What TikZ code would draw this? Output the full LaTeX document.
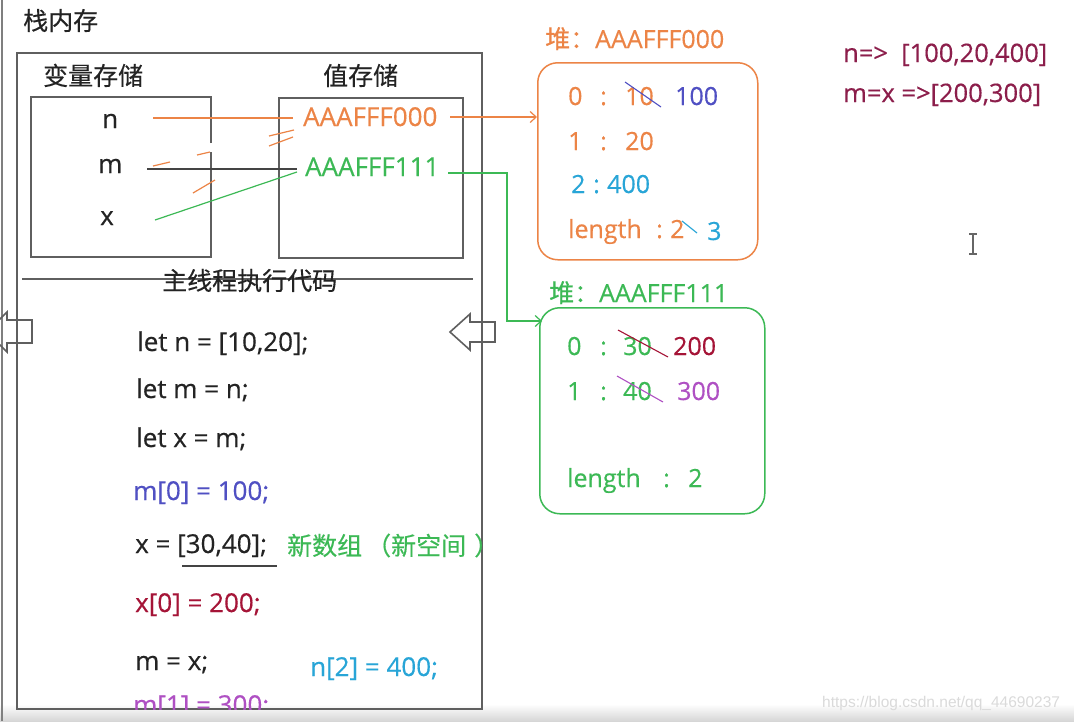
\documentclass[tikz,border=0pt]{standalone}
\usepackage{fontspec}
\setmainfont{Open Sans}[FakeBold=0.4]
\newfontfamily\cjk{Noto Sans CJK SC}[FakeBold=0.4]
\newfontfamily\wmfont{Liberation Sans}
\usetikzlibrary{arrows.meta,calc}
\definecolor{cOr}{RGB}{236,132,70}
\definecolor{cGr}{RGB}{60,185,85}
\definecolor{cBl}{RGB}{80,80,195}
\definecolor{cCy}{RGB}{40,165,215}
\definecolor{cRd}{RGB}{165,20,55}
\definecolor{cPu}{RGB}{175,80,195}
\definecolor{cMa}{RGB}{140,30,75}
\definecolor{cLn}{RGB}{95,95,95}
\definecolor{cTx}{RGB}{35,35,35}
\definecolor{cWm}{RGB}{218,218,218}
\tikzset{
  txt/.style={anchor=base west, inner sep=0pt, text=cTx, font=\fontsize{26}{30}\selectfont},
  htxt/.style={txt, font=\fontsize{25}{30}\selectfont},
  ctxt/.style={txt, font=\fontsize{25}{30}\selectfont\cjk},
  rtxt/.style={txt, text=cMa, font=\fontsize{25.5}{30}\selectfont},
  boxline/.style={draw=cLn, line width=1.8pt},
  sqbox/.style={anchor=north west, inner sep=0pt},
  heapbox/.style={anchor=north west, rounded corners=20pt, line width=1.5pt, inner sep=0pt},
  conn/.style={line width=1.2pt},
  strike/.style={line width=1.1pt},
  tip/.style={-{Straight Barb[length=6pt,width=11pt,line width=1.2pt]}},
  hollow/.style={draw=cLn, line width=1.6pt, line join=miter}
}
\begin{document}
\begin{tikzpicture}[x=1pt,y=-1pt]
\clip (0,0) rectangle (1074,721);
\fill[white] (0,0) rectangle (1074,721);
\shade[top color=white, bottom color=black!16] (0,704) rectangle (1074,721);
\node[anchor=base west, inner sep=0pt, text=cWm, font=\fontsize{15.5}{18}\selectfont\wmfont] (wm) at (822,707) {https://blog.csdn.net/qq\_44690237};

% left screen edge line
\draw[cLn!80, line width=1.5pt] (2,0) -- (2,721);

% stack memory
\node[ctxt] (stacklbl) at (23,30) {栈内存};
\node[sqbox, boxline, minimum width=465pt, minimum height=656pt] (stack) at (16,52) {};
\node[ctxt] (varlbl) at (43,85) {变量存储};
\node[ctxt] (vallbl) at (323,85) {值存储};
\draw[boxline] (211,143) -- (211,97) -- (31,97) -- (31,257) -- (211,257) -- (211,152);
\node[sqbox, boxline, minimum width=184pt, minimum height=160pt] (valbox) at (278,97) {};
\draw[boxline] (22,279) -- (473,279);
\node[ctxt] (mainlbl) at (162,290) {主线程执行代码};

% variables and addresses
\node[txt] (vn) at (102,128) {n};
\node[txt] (vm) at (98,173) {m};
\node[txt] (vx) at (100,225) {x};
\node[txt, text=cOr] (a000) at (303,126) {AAAFFF000};
\node[txt, text=cGr] (a111) at (305,176) {AAAFFF111};

\coordinate (nR) at (153,118);
\coordinate (mR) at (147,169);
\coordinate (xR) at (155,220);
\coordinate (a0L) at (293,118);
\coordinate (a1L) at (297,169);
\coordinate (a1Lg) at (297,172);
\coordinate (a0R) at (450,117);
\coordinate (a1R) at (448,173);
\coordinate (gbend) at (507,173);
\coordinate (g2in) at (542,321);

\draw[conn, cOr] (nR) -- (a0L);
\draw[conn, cTx!85] (mR) -- (a1L);
\draw[conn, cGr] (xR) -- (a1Lg);

% erased orange strokes
\draw[conn, cOr] (153,166) -- (170,162);
\draw[conn, cOr] (197,155) -- (210,152);
\draw[conn, cOr] (193,193) -- (215,180);
\draw[conn, cOr] (269,136) -- (294,130);
\draw[conn, cOr] (269,146) -- (293,137);

% heap 1
\node[heapbox, draw=cOr, minimum width=220pt, minimum height=197pt] (heap1) at (537,62) {};
\node[htxt, text=cOr] (h1t) at (545,48) {{\cjk 堆：}AAAFFF000};
\draw[conn, cOr, tip] (a0R) -- (heap1.west |- a0R);
\node[htxt, text=cOr] (h1r0i) at (568,105) {0};
\node[htxt, text=cOr] (h1r0c) at (600,105) {:};
\node[htxt, text=cOr] (h1r0v) at (625,105) {10};
\node[htxt, text=cBl] (h1r0n) at (675,105) {100};
\draw[strike, cBl] (625,82) -- (661,107);
\node[htxt, text=cOr] (h1r1i) at (568,150) {1};
\node[htxt, text=cOr] (h1r1c) at (600,150) {:};
\node[htxt, text=cOr] (h1r1v) at (625,150) {20};
\node[htxt, text=cCy] (h1r2i) at (571,193) {2};
\node[htxt, text=cCy] (h1r2c) at (593,193) {:};
\node[htxt, text=cCy] (h1r2v) at (607,193) {400};
\node[htxt, text=cOr] (h1len) at (568,238) {length};
\node[htxt, text=cOr] (h1lc) at (656,238) {:};
\node[htxt, text=cOr] (h1lv) at (670,238) {2};
\node[htxt, text=cCy] (h1ln) at (707,240) {3};
\draw[strike, cCy] (682,221) -- (697,233);

% heap 2
\node[heapbox, draw=cGr, minimum width=225pt, minimum height=206pt] (heap2) at (539,307) {};
\node[htxt, text=cGr] (h2t) at (549,302) {{\cjk 堆：}AAAFFF111};
\draw[conn, cGr, tip] (a1R) -- (gbend) |- (g2in);
\node[htxt, text=cGr] (h2r0i) at (567,355) {0};
\node[htxt, text=cGr] (h2r0c) at (600,355) {:};
\node[htxt, text=cGr] (h2r0v) at (623,355) {30};
\node[htxt, text=cRd] (h2r0n) at (673,355) {200};
\draw[strike, cRd] (618,330) -- (668,357);
\node[htxt, text=cGr] (h2r1i) at (567,400) {1};
\node[htxt, text=cGr] (h2r1c) at (600,400) {:};
\node[htxt, text=cGr] (h2r1v) at (623,400) {40};
\node[htxt, text=cPu] (h2r1n) at (677,400) {300};
\draw[strike, cPu] (617,376) -- (663,402);
\node[htxt, text=cGr] (h2len) at (567,487) {length};
\node[htxt, text=cGr] (h2lc) at (663,487) {:};
\node[htxt, text=cGr] (h2lv) at (688,487) {2};

% right summary
\node[rtxt] (sum1) at (843,62) {n=>\ \ [100,20,400]};
\node[rtxt] (sum2) at (843,102) {m=x =>[200,300]};

% cursor
\draw[line width=1.6pt, black!60] (973,234) -- (973,254);
\draw[line width=1.2pt, black!60] (969,234) -- (977,234) (969,254) -- (977,254);

% hollow arrows
\draw[hollow] (450,332) -- (470,314) -- (470,322) -- (495,322) -- (495,342) -- (470,342) -- (470,350) -- cycle;
\draw[hollow] (-13,332) -- (7,312) -- (7,320) -- (32,320) -- (32,343) -- (7,343) -- (7,352) -- cycle;

% code
\node[txt] (c1) at (137,351) {let n = [10,20];};
\node[txt] (c2) at (136,398) {let m = n;};
\node[txt] (c3) at (136,447) {let x = m;};
\node[txt, text=cBl] (c4) at (133,500) {m[0] = 100;};
\node[txt] (c5) at (135,553) {x = [30,40];};
\draw[line width=1.5pt, cTx!85] (182,566) -- (277,566);
\begin{scope}
\clip (280,520) rectangle (482,580);
\node[ctxt, text=cGr] (c5n) at (287,555) {新数组\hspace{4pt}（新空间};
\node[ctxt, text=cGr] (c5p) at (474,555) {）};
\end{scope}
\node[txt, text=cRd] (c6) at (135,612) {x[0] = 200;};
\node[txt] (c7) at (135,670) {m = x;};
\node[txt, text=cCy] (c8) at (310,676) {n[2] = 400;};
\begin{scope}
\clip (100,680) rectangle (300,709);
\node[txt, text=cPu] (c9) at (133,714) {m[1] = 300;};
\end{scope}
\end{tikzpicture}
\end{document}
